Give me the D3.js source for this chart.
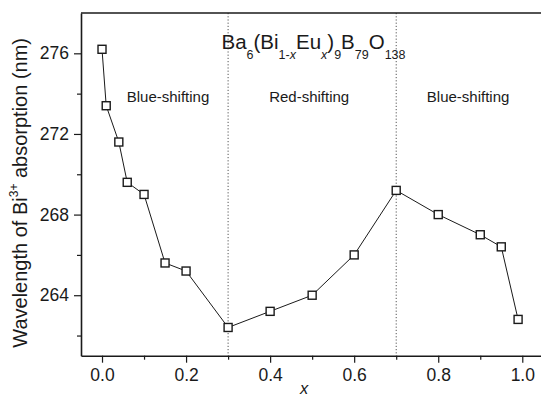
<!DOCTYPE html>
<html>
<head>
<meta charset="utf-8">
<script src="https://cdn.jsdelivr.net/npm/d3@7"></script>
<style>
  html, body { margin: 0; padding: 0; background: #fff; }
  svg { display: block; font-family: "Liberation Sans", Arial, sans-serif; }
</style>
</head>
<body>
<svg id="chart" width="541" height="398"></svg>
<script>
// Eu content x and Bi3+ absorption wavelength (nm)
const xValues = [0, 0.01, 0.04, 0.06, 0.1, 0.15, 0.2, 0.3, 0.4, 0.5, 0.6, 0.7, 0.8, 0.9, 0.95, 0.99];
const wavelengths = [276.2, 273.4, 271.6, 269.6, 269.0, 265.6, 265.2, 262.4, 263.2, 264.0, 266.0, 269.2, 268.0, 267.0, 266.4, 262.8];

const xTicks = [0, 0.2, 0.4, 0.6, 0.8, 1.0];
const xMinorTicks = [0.1, 0.3, 0.5, 0.7, 0.9];
const yTicks = [264, 268, 272, 276];
const yMinorTicks = [262, 266, 270, 274];

// region boundaries and their labels
const boundaries = [0.3, 0.7];
const regionLabels = [
  { text: "Blue-shifting", x: 0.157 },
  { text: "Red-shifting", x: 0.493 },
  { text: "Blue-shifting", x: 0.871 }
];

const svg = d3.select("#chart");
const plotLeft = 81, plotTop = 13, plotBottom = 355.7, plotRight = 543.3;

const x = d3.scaleLinear().domain([-0.05, 1.05]).range([plotLeft, plotRight]);
const y = d3.scaleLinear().domain([261, 278]).range([plotBottom, plotTop]);

const ink = "#1a1a1a";

// dotted boundaries
svg.selectAll("line.bound").data(boundaries).join("line")
  .attr("class", "bound")
  .attr("x1", d => x(d)).attr("x2", d => x(d))
  .attr("y1", plotTop).attr("y2", plotBottom)
  .attr("stroke", "#555").attr("stroke-width", 1)
  .attr("stroke-dasharray", "1.2,2");

// x axis
svg.append("g").attr("transform", `translate(0,${plotBottom})`)
  .call(d3.axisBottom(x).tickValues(xTicks).tickFormat(d3.format(".1f")).tickSize(7).tickSizeOuter(0).tickPadding(6));
svg.append("g").attr("transform", `translate(0,${plotBottom})`)
  .call(d3.axisBottom(x).tickValues(xMinorTicks).tickFormat("").tickSize(4).tickSizeOuter(0))
  .select(".domain").remove();

// y axis
svg.append("g").attr("transform", `translate(${plotLeft},0)`)
  .call(d3.axisLeft(y).tickValues(yTicks).tickFormat(d3.format("d")).tickSize(7).tickSizeOuter(0).tickPadding(5));
svg.append("g").attr("transform", `translate(${plotLeft},0)`)
  .call(d3.axisLeft(y).tickValues(yMinorTicks).tickFormat("").tickSize(4).tickSizeOuter(0))
  .select(".domain").remove();

svg.selectAll(".domain").attr("stroke", ink).attr("stroke-width", 1.6);
svg.selectAll(".tick line").attr("stroke", ink).attr("stroke-width", 1.2);
svg.selectAll(".tick text").attr("fill", ink).attr("font-size", 17.5)
  .attr("font-family", "Liberation Sans, Arial, sans-serif");

// frame top
svg.append("line")
  .attr("x1", plotLeft).attr("x2", plotRight).attr("y1", plotTop).attr("y2", plotTop)
  .attr("stroke", ink).attr("stroke-width", 1.6);

// data line
const pts = xValues.map((v, i) => [v, wavelengths[i]]);
svg.append("path")
  .datum(pts)
  .attr("fill", "none").attr("stroke", ink).attr("stroke-width", 1)
  .attr("d", d3.line().x(d => x(d[0])).y(d => y(d[1])));

// square markers
const s = 8;
svg.selectAll("rect.pt").data(pts).join("rect")
  .attr("class", "pt")
  .attr("x", d => x(d[0]) - s / 2).attr("y", d => y(d[1]) - s / 2)
  .attr("width", s).attr("height", s)
  .attr("fill", "#fff").attr("stroke", ink).attr("stroke-width", 1.4);

// region labels
svg.selectAll("text.region").data(regionLabels).join("text")
  .attr("class", "region")
  .attr("x", d => x(d.x)).attr("y", 102)
  .attr("text-anchor", "middle").attr("font-size", 15).attr("fill", ink)
  .text(d => d.text);

// formula title
const title = svg.append("text").attr("x", 221.5).attr("y", 48.5)
  .attr("font-size", 20.5).attr("fill", ink);
const parts = [
  ["Ba", 0], ["6", 1], ["(Bi", 0], ["1-", 1], ["x", 2], ["Eu", 0], ["x", 2], [")", 0], ["9", 1],
  ["B", 0], ["79", 1], ["O", 0], ["138", 1]
];
let prevSub = false;
parts.forEach(([t, kind]) => {
  const sub = kind > 0;
  const ts = title.append("tspan").text(t);
  if (sub) ts.attr("font-size", 12.5);
  if (kind === 2) ts.attr("font-style", "italic");
  if (sub && !prevSub) ts.attr("dy", 10);
  if (!sub && prevSub) ts.attr("dy", -10);
  prevSub = sub;
});

// y axis title
const yt = svg.append("text")
  .attr("transform", `translate(26.5,${(plotBottom + 30) / 2}) rotate(-90)`)
  .attr("text-anchor", "middle").attr("font-size", 20).attr("fill", ink);
yt.append("tspan").text("Wavelength of Bi");
yt.append("tspan").text("3+").attr("font-size", 12).attr("dy", -9);
yt.append("tspan").text(" absorption (nm)").attr("dy", 9);

// x axis title
svg.append("text").attr("x", 304).attr("y", 393.5)
  .attr("text-anchor", "middle").attr("font-size", 16.5).attr("font-style", "italic")
  .attr("fill", ink).text("x");
</script>
</body>
</html>
